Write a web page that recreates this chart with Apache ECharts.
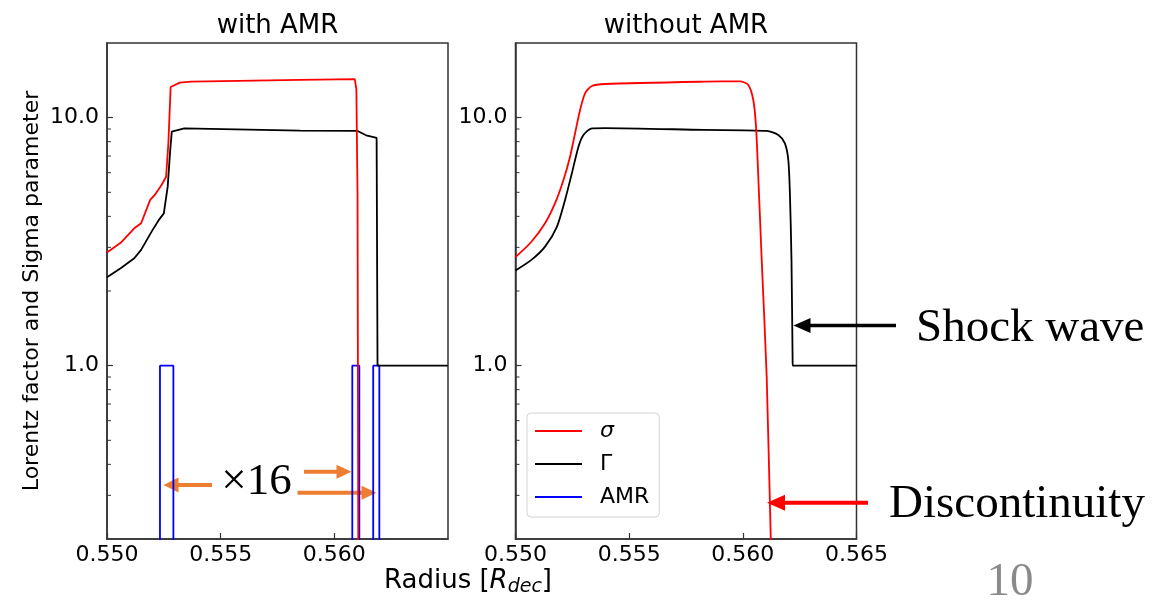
<!DOCTYPE html>
<html>
<head>
<meta charset="utf-8">
<title>Lorentz factor and Sigma parameter</title>
<script src="https://cdn.jsdelivr.net/npm/echarts@6/dist/echarts.min.js"></script>
<style>
  html, body { margin: 0; padding: 0; background: #fff; }
  #main { width: 1165px; height: 600px; }
</style>
</head>
<body>
<div id="main"></div>
<script>
// axis ticks
var radiusMin = 0.550, radiusMax = 0.565, radiusStep = 0.005;
var yMin = 0.2, yMax = 20;
var majorTickLabels = [1, 10];
var minorTickValues = [0.3, 0.4, 0.5, 0.6, 0.7, 0.8, 0.9, 2, 3, 4, 5, 6, 7, 8, 9];

// with AMR
var amrSigmaR = [0.5500, 0.5506, 0.5512, 0.5515, 0.5519, 0.5521, 0.5524, 0.5526, 0.5527, 0.5528, 0.5532, 0.5537, 0.5585, 0.5609, 0.56097, 0.56102, 0.56106];
var amrSigma  = [2.86,   3.13,   3.58,   3.75,   4.66,   4.88,   5.35,   5.78,   7.9,    13.3,   13.85,  13.97,  14.2,   14.3,   13.0,    5.0,     0.1];

var amrGammaR = [0.5500, 0.5506, 0.5512, 0.5515, 0.5520, 0.5523, 0.5525, 0.55267, 0.55277, 0.55285, 0.5534, 0.5585, 0.5610, 0.5614, 0.56186, 0.56190, 0.5650];
var amrGamma  = [2.27,   2.47,   2.71,   2.93,   3.52,   3.89,   4.11,   5.27,    7.18,    8.78,    9.06,   8.87,   8.85,   8.49,   8.28,    1.0,     1.0];

var amrFlagR = [0.5500, 0.55233, 0.55233, 0.55292, 0.55292, 0.56079, 0.56079, 0.56110, 0.56110, 0.56171, 0.56171, 0.56198, 0.56198, 0.5650];
var amrFlag  = [0.1,    0.1,     1.0,     1.0,     0.1,     0.1,     1.0,     1.0,     0.1,     0.1,     1.0,     1.0,     0.1,     0.1];

// without AMR
var noAmrSigmaR = [0.5500, 0.5507, 0.5513, 0.55174, 0.55211, 0.5524, 0.55262, 0.55284, 0.55306, 0.55336, 0.55394, 0.5583, 0.55987, 0.56024, 0.56046, 0.56058, 0.56068, 0.56083, 0.56105, 0.56123, 0.5613];
var noAmrSigma  = [2.74,   3.16,   3.75,   4.52,    5.61,    6.96,   8.65,    10.74,   12.54,   13.42,   13.67,   13.97,  14.0,    13.55,   11.78,   9.2,     5.78,    2.67,    0.90,    0.2,     0.15];

var noAmrGammaR = [0.5500, 0.5507, 0.5513, 0.55182, 0.55218, 0.55248, 0.55277, 0.55299, 0.55336, 0.55394, 0.5583, 0.56105, 0.56156, 0.56185, 0.5620, 0.56207, 0.56214, 0.56219, 0.5622, 0.5650];
var noAmrGamma  = [2.42,   2.67,   3.02,   3.63,    4.66,    5.97,    7.64,    8.51,    9.06,    9.08,    8.92,   8.84,    8.51,    7.88,    6.75,   4.96,    2.67,    1.05,    1.0,    1.0];

function pairs(xs, ys) {
  return xs.map(function (x, i) { return [x, ys[i]]; });
}

var font = 'DejaVu Sans';
var fs = 22;
var frameColor = '#333';

function makeXAxis(idx, hideLast) {
  return {
    type: 'value', gridIndex: idx, min: radiusMin, max: radiusMax, interval: radiusStep,
    axisLine: { show: true, lineStyle: { color: frameColor, width: 1.5 } },
    axisTick: { show: true, inside: true, length: 6, lineStyle: { color: frameColor, width: 1.2 } },
    axisLabel: {
      margin: 5, color: '#000', fontFamily: font, fontSize: fs,
      showMaxLabel: !hideLast,
      formatter: function (v) { return v.toFixed(3); }
    },
    splitLine: { show: false }
  };
}

function makeYAxis(idx) {
  return {
    type: 'log', logBase: 10, gridIndex: idx, min: yMin, max: yMax,
    axisLine: { show: true, lineStyle: { color: frameColor, width: 1.5 } },
    axisTick: { show: true, inside: true, length: 6, lineStyle: { color: frameColor, width: 1.2 } },
    axisLabel: {
      margin: 8, color: '#000', fontFamily: font, fontSize: fs,
      showMinLabel: false, showMaxLabel: false,
      formatter: function (v) {
        for (var i = 0; i < majorTickLabels.length; i++) {
          if (Math.abs(v - majorTickLabels[i]) < 1e-6 * majorTickLabels[i]) return majorTickLabels[i].toFixed(1);
        }
        return '';
      }
    },
    splitLine: { show: false }
  };
}

function lineSeries(name, idx, data, color, smooth) {
  return {
    name: name, type: 'line', xAxisIndex: idx, yAxisIndex: idx,
    data: data, showSymbol: false, symbol: 'none', smooth: smooth || false,
    lineStyle: { color: color, width: 1.8 }, itemStyle: { color: color },
    clip: true, animation: false, silent: true
  };
}

// log-axis minor ticks, placed through the axis scale
function minorTicks(idx) {
  return {
    type: 'custom', xAxisIndex: idx, yAxisIndex: idx, silent: true, animation: false,
    data: minorTickValues.map(function (v) { return [radiusMin, v]; }),
    renderItem: function (params, api) {
      var p = api.coord([api.value(0), api.value(1)]);
      return {
        type: 'line',
        shape: { x1: p[0], y1: p[1], x2: p[0] + 4, y2: p[1] },
        style: { stroke: frameColor, lineWidth: 1 }
      };
    }
  };
}

function arrow(x1, y, x2, color, w, hl, hw) {
  var d = x2 > x1 ? 1 : -1;
  return {
    type: 'group', silent: true,
    children: [
      { type: 'line', shape: { x1: x1, y1: y, x2: x2 - d * hl * 0.8, y2: y }, style: { stroke: color, lineWidth: w } },
      { type: 'polygon', shape: { points: [[x2, y], [x2 - d * hl, y - hw / 2], [x2 - d * hl, y + hw / 2]] }, style: { fill: color } }
    ]
  };
}

var orange = '#ed7d31';

var option = {
  backgroundColor: '#fff',
  animation: false,
  grid: [
    { left: 107, top: 43, width: 341, height: 496, show: true, borderColor: frameColor, borderWidth: 1.5, backgroundColor: 'transparent' },
    { left: 515.5, top: 43, width: 341, height: 496, show: true, borderColor: frameColor, borderWidth: 1.5, backgroundColor: 'transparent' }
  ],
  xAxis: [makeXAxis(0, true), makeXAxis(1, false)],
  yAxis: [makeYAxis(0), makeYAxis(1)],
  legend: {
    data: ['σ', 'Γ', 'AMR'],
    orient: 'vertical', left: 527, top: 413,
    icon: 'rect', itemWidth: 47, itemHeight: 2, itemGap: 11,
    padding: [7, 10, 9, 8],
    backgroundColor: '#fff', borderColor: '#d4d4d4', borderWidth: 1, borderRadius: 4,
    selectedMode: false,
    textStyle: {
      fontFamily: font, fontSize: fs, color: '#000', padding: [0, 0, 0, 13],
      rich: { i: { fontFamily: font, fontSize: fs, fontStyle: 'italic', color: '#000' } }
    },
    formatter: function (name) { return name === 'σ' ? '{i|σ}' : name; }
  },
  series: [
    lineSeries('AMR', 0, pairs(amrFlagR, amrFlag), '#0000ff'),
    lineSeries('Γ', 0, pairs(amrGammaR, amrGamma), '#000000'),
    lineSeries('σ', 0, pairs(amrSigmaR, amrSigma), '#ff0000'),
    lineSeries('Γ', 1, pairs(noAmrGammaR, noAmrGamma), '#000000', 0.25),
    lineSeries('σ', 1, pairs(noAmrSigmaR, noAmrSigma), '#ff0000', 0.25),
    minorTicks(0),
    minorTicks(1)
  ],
  graphic: [
    { type: 'text', x: 277.5, y: 26.3, silent: true, style: { text: 'with AMR', font: '26px "DejaVu Sans"', fill: '#000', align: 'center', verticalAlign: 'middle' } },
    { type: 'text', x: 686, y: 26.3, silent: true, style: { text: 'without AMR', font: '26px "DejaVu Sans"', fill: '#000', align: 'center', verticalAlign: 'middle' } },
    { type: 'text', x: 32.4, y: 291, rotation: Math.PI / 2, silent: true, style: { text: 'Lorentz factor and Sigma parameter', font: '22px "DejaVu Sans"', fill: '#000', align: 'center', verticalAlign: 'middle' } },
    { type: 'text', x: 384, y: 581, silent: true, style: {
        text: 'Radius [{i|R}{s|dec}]', font: '26px "DejaVu Sans"', fill: '#000', align: 'left', verticalAlign: 'middle',
        rich: {
          i: { fontFamily: font, fontSize: 26, fontStyle: 'italic', fill: '#000' },
          s: { fontFamily: font, fontSize: 19, fontStyle: 'italic', fill: '#000', padding: [13, 0, 0, 0] }
        }
      } },
    { type: 'text', x: 256.5, y: 482.5, silent: true, style: { text: '×16', font: '45px "Liberation Serif"', fill: '#000', align: 'center', verticalAlign: 'middle' } },
    { type: 'text', x: 916, y: 328.4, silent: true, style: { text: 'Shock wave', font: '47px "Liberation Serif"', fill: '#000', align: 'left', verticalAlign: 'middle' } },
    { type: 'text', x: 889, y: 505, silent: true, style: { text: 'Discontinuity', font: '47px "Liberation Serif"', fill: '#000', align: 'left', verticalAlign: 'middle' } },
    { type: 'text', x: 1010, y: 582.5, silent: true, style: { text: '10', font: '47px "Liberation Serif"', fill: '#8a8a8a', align: 'center', verticalAlign: 'middle' } },
    arrow(896, 325.5, 793.5, '#000', 3.5, 17, 15),
    arrow(868, 502.7, 767, '#ff0000', 4, 18, 16),
    arrow(212, 485, 163.5, orange, 4, 15, 15),
    arrow(304, 471.7, 351.5, orange, 4, 15, 14),
    arrow(297.5, 492.7, 376.5, orange, 4, 15, 14)
  ]
};

var chart = echarts.init(document.getElementById('main'), null, { renderer: 'canvas' });
chart.setOption(option);
</script>
</body>
</html>
